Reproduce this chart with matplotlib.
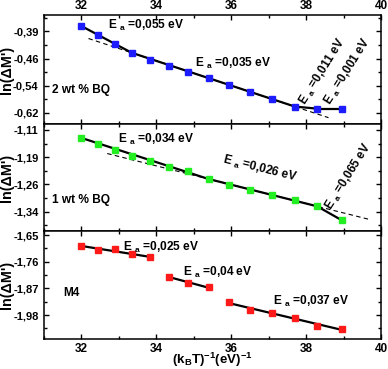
import numpy as np
import matplotlib
matplotlib.use("Agg")
import matplotlib.pyplot as plt
from matplotlib.ticker import FixedLocator, MultipleLocator

plt.rcParams['font.family'] = ['Liberation Sans', 'DejaVu Sans']
plt.rcParams['font.weight'] = 'bold'
plt.rcParams['mathtext.fontset'] = 'custom'
plt.rcParams['mathtext.rm'] = 'Liberation Sans:bold'
plt.rcParams['mathtext.it'] = 'Liberation Sans:bold'
plt.rcParams['mathtext.bf'] = 'Liberation Sans:bold'
plt.rcParams['mathtext.default'] = 'rm'

# ---- data ----
x_vals = [32.0, 32.45, 32.9, 33.35, 33.85, 34.35, 34.85, 35.4, 35.95, 36.5, 37.1, 37.7, 38.3, 38.95]

bq2_y = [-0.374, -0.399, -0.424, -0.450, -0.470, -0.487, -0.504, -0.521,
         -0.540, -0.560, -0.581, -0.602, -0.608, -0.608]
bq1_y = [-1.132, -1.150, -1.166, -1.182, -1.197, -1.214, -1.226, -1.248,
         -1.264, -1.279, -1.294, -1.307, -1.325, -1.364]
m4_y = [-1.694, -1.712, -1.709, -1.729, -1.742, -1.822, -1.847, -1.866,
        -1.925, -1.959, -1.973, -1.991, -2.024, -2.037]

bq2_segments = [(0, 3), (3, 11), (11, 12), (12, 13)]
bq2_dash = (3, 11, 32.2, 38.6)
bq1_segments = [(0, 7), (7, 12), (12, 13)]
bq1_dash = (7, 12, 32.7, 39.7)
m4_groups = [(0, 4), (5, 7), (8, 13)]

bq2_ticks = ['-0,39', '-0,46', '-0,54', '-0,62']
bq1_ticks = ['-1,11', '-1,19', '-1,26', '-1,34']
m4_ticks = ['-1,65', '-1,76', '-1,87', '-1,98']
x_ticks = [32, 34, 36, 38, 40]

W, H = 388, 369
fig = plt.figure(figsize=(W / 100, H / 100), dpi=100)

left = 43.5 / W
width = (381 - 43.5) / W
def frac(top_px, bot_px):
    return [left, 1 - bot_px / H, width, (bot_px - top_px) / H]

ax1 = fig.add_axes(frac(15, 124))
ax2 = fig.add_axes(frac(124, 231))
ax3 = fig.add_axes(frac(231, 339.3))

ms = 4.3
x = np.array(x_vals)

def style(ax, ylim, tick_top, tick_bot, labels, top_labels=False, bottom_labels=False):
    ax.set_xlim(31, 40)
    ax.set_ylim(*ylim)
    major = np.linspace(tick_top, tick_bot, 4)
    step = major[1] - major[0]
    minor = [v for v in np.concatenate([major - step / 2, [major[-1] + step / 2]])
             if min(ylim) <= v <= max(ylim)]
    ax.yaxis.set_major_locator(FixedLocator(major))
    ax.set_yticklabels(labels)
    ax.yaxis.set_minor_locator(FixedLocator(minor))
    ax.xaxis.set_major_locator(FixedLocator(x_ticks))
    ax.xaxis.set_minor_locator(MultipleLocator(1))
    ax.set_xticklabels([str(t) for t in x_ticks])
    ax.tick_params(which='both', direction='in', top=True, right=True, width=1.0,
                   labelsize=8.0, labeltop=top_labels, labelbottom=bottom_labels, pad=3.5)
    ax.tick_params(axis='x', which='both', pad=2.5, labelsize=8.5)
    ax.tick_params(which='major', length=3.5)
    ax.tick_params(which='minor', length=2)
    for s in ax.spines.values():
        s.set_linewidth(1.1)
    for lab in ax.get_xticklabels() + ax.get_yticklabels():
        lab.set_fontweight('bold')
    ax.set_ylabel("ln(\u0394M')", fontsize=10.3, fontweight='bold')
    ax.yaxis.set_label_coords(-0.088, 0.5)

style(ax1, (-0.6513, -0.3434), -0.39, -0.62, bq2_ticks, top_labels=True)
style(ax2, (-1.3945, -1.0931), -1.11, -1.34, bq1_ticks)
style(ax3, (-2.0802, -1.6333), -1.65, -1.98, m4_ticks, bottom_labels=True)

def seg_lines(ax, y, segments, dash):
    y = np.array(y)
    for i, j in segments:
        ax.plot([x[i], x[j]], [y[i], y[j]], color='black', lw=1.6, zorder=2)
    i, j, xa, xb = dash
    slope = (y[j] - y[i]) / (x[j] - x[i])
    xs = np.array([xa, xb])
    ax.plot(xs, y[i] + slope * (xs - x[i]), color='black', lw=0.8, ls=(0, (4, 3)), zorder=2)

seg_lines(ax1, bq2_y, bq2_segments, bq2_dash)
ax1.plot(x, bq2_y, 's', color='#1c1cff', ms=ms, mec='#1c1cff', zorder=3)
seg_lines(ax2, bq1_y, bq1_segments, bq1_dash)
ax2.plot(x, bq1_y, 's', color='#22ee22', ms=ms, mec='#22ee22', zorder=3)

y3 = np.array(m4_y)
for i, j in m4_groups:
    xs = x[i:j + 1]
    p = np.polyfit(xs, y3[i:j + 1], 1)
    ax3.plot([xs[0], xs[-1]], np.polyval(p, [xs[0], xs[-1]]), color='black', lw=1.6, zorder=2)
ax3.plot(x, m4_y, 's', color='#ff1a1a', ms=ms, mec='#ff1a1a', zorder=3)

fs = 8.6
def ea(ax, xx, yy, val, rot=0, ha='left'):
    ax.text(xx, yy, "E $_{a}$ =" + val + " eV", fontsize=fs, fontweight='bold',
            ha=ha, va='center', rotation=rot)

ea(ax1, 32.72, -0.3717, "0,055")
ea(ax1, 35.05, -0.4789, "0,035")
ea(ax1, 38.44, -0.5029, "0,011", rot=58, ha='center')
ea(ax1, 39.11, -0.5029, "0,001", rot=58, ha='center')
ax1.text(31.23, -0.5551, "2 wt % BQ", fontsize=fs, fontweight='bold', va='center')

ea(ax2, 33.0, -1.1354, "0,034")
ea(ax2, 36.77, -1.2185, "0,026", rot=-14, ha='center')
ea(ax2, 39.13, -1.2424, "0,065", rot=58, ha='center')
ax2.text(31.23, -1.3072, "1 wt % BQ", fontsize=fs, fontweight='bold', va='center')

ea(ax3, 33.12, -1.6993, "0,025")
ea(ax3, 34.72, -1.8054, "0,04")
ea(ax3, 37.12, -1.925, "0,037")
ax3.text(31.52, -1.888, "M4", fontsize=fs, fontweight='bold', va='center')

fig.text(212 / W, 1 - 359.5 / H, "(k$_{B}$T)$^{-1}$(eV)$^{-1}$", fontsize=9.6,
         fontweight='bold', ha='center', va='center')

fig.savefig("out.png", dpi=100)
